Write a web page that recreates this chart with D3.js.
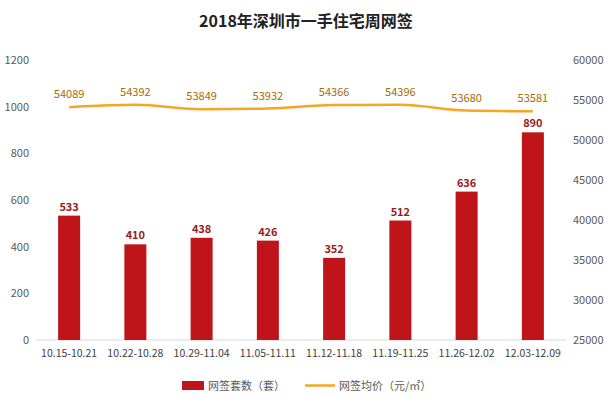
<!DOCTYPE html>
<html><head><meta charset="utf-8">
<script src="https://cdn.jsdelivr.net/npm/d3@7"></script>
<style>body{margin:0;background:#fff;font-family:"Noto Sans CJK SC","Noto Sans",sans-serif}</style>
</head><body><div class="chart"></div>
<script>
//Chart data
const weeks = ["10.15-10.21","10.22-10.28","10.29-11.04","11.05-11.11","11.12-11.18","11.19-11.25","11.26-12.02","12.03-12.09"];
const units = [533, 410, 438, 426, 352, 512, 636, 890];
const prices = [54089, 54392, 53849, 53932, 54366, 54396, 53680, 53581];
const leftTicks = [0, 200, 400, 600, 800, 1000, 1200];
const rightTicks = [25000, 30000, 35000, 40000, 45000, 50000, 55000, 60000];

const W = 612, H = 406;
const plotLeft = 36, plotRight = 566, plotTop = 60, plotBottom = 340;

let svg = d3.select(".chart").append("svg").attr("width", W).attr("height", H);

//Title
svg.append("text").attr("x", W / 2).attr("y", 27).attr("text-anchor", "middle")
   .style("font-size", "16px").style("font-weight", "bold").style("fill", "#222")
   .style("font-family", "Noto Sans CJK SC").text("2018年深圳市一手住宅周网签");

let x = d3.scaleBand().domain(weeks).range([plotLeft, plotRight]);
let yL = d3.scaleLinear().domain([0, 1200]).range([plotBottom, plotTop]);
let yR = d3.scaleLinear().domain([25000, 60000]).range([plotBottom, plotTop]);

//Left axis labels
svg.append("g").selectAll("text").data(leftTicks).enter().append("text")
   .attr("x", 29).attr("y", d => yL(d) + 4).attr("text-anchor", "end")
   .style("font-size", "11px").style("fill", "#595959").text(d => d);

//Right axis labels
svg.append("g").selectAll("text").data(rightTicks).enter().append("text")
   .attr("x", 573).attr("y", d => yR(d) + 4).attr("text-anchor", "start")
   .style("font-size", "11px").style("fill", "#595959").text(d => d);

//Baseline
svg.append("line").attr("x1", plotLeft).attr("x2", plotRight).attr("y1", plotBottom).attr("y2", plotBottom)
   .style("stroke", "#d9d9d9");

//Category labels
svg.append("g").selectAll("text").data(weeks).enter().append("text")
   .attr("x", d => x(d) + x.bandwidth() / 2).attr("y", 357).attr("text-anchor", "middle")
   .style("font-size", "10.5px").style("fill", "#404040").text(d => d);

//Bars
const bw = 22;
svg.append("g").selectAll("rect").data(units).enter().append("rect")
   .attr("x", (d, i) => x(weeks[i]) + x.bandwidth() / 2 - bw / 2)
   .attr("y", d => yL(d)).attr("width", bw).attr("height", d => plotBottom - yL(d))
   .style("fill", "#c0141b");

svg.append("g").selectAll("text").data(units).enter().append("text")
   .attr("x", (d, i) => x(weeks[i]) + x.bandwidth() / 2).attr("y", d => yL(d) - 5)
   .attr("text-anchor", "middle").style("font-size", "11px").style("font-weight", "bold")
   .style("fill", "#9a1c1c").text(d => d);

//Price line
let line = d3.line().x((d, i) => x(weeks[i]) + x.bandwidth() / 2).y(d => yR(d)).curve(d3.curveMonotoneX);
svg.append("path").datum(prices).attr("d", line)
   .style("fill", "none").style("stroke", "#f5a623").style("stroke-width", 2.5);

svg.append("g").selectAll("text").data(prices).enter().append("text")
   .attr("x", (d, i) => x(weeks[i]) + x.bandwidth() / 2).attr("y", d => yR(d) - 9)
   .attr("text-anchor", "middle").style("font-size", "11px").style("fill", "#a66a00").text(d => d);

//Legend
let lg = svg.append("g");
lg.append("rect").attr("x", 182).attr("y", 381).attr("width", 22).attr("height", 9).style("fill", "#c0141b");
lg.append("text").attr("x", 208).attr("y", 390).style("font-size", "11px").style("fill", "#595959").text("网签套数（套）");
lg.append("line").attr("x1", 305).attr("x2", 335).attr("y1", 385.5).attr("y2", 385.5)
  .style("stroke", "#f5a623").style("stroke-width", 2.5);
lg.append("text").attr("x", 339).attr("y", 390).style("font-size", "11px").style("fill", "#595959").text("网签均价（元/㎡）");
</script></body></html>
